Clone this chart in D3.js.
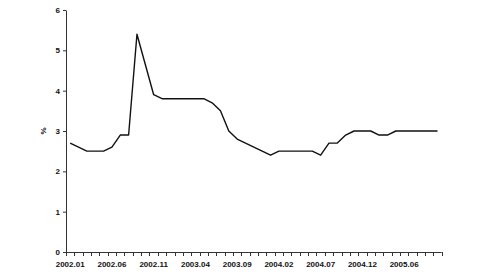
<!DOCTYPE html>
<html>
<head>
<meta charset="utf-8">
<script src="https://cdn.jsdelivr.net/npm/d3@7"></script>
<style>
  body { margin: 0; background: #fff; }
  svg { display: block; }
</style>
</head>
<body>
<svg id="chart" width="477" height="272"></svg>
<script>
// monthly categories, 2002.01 .. 2005.09
let months = [];
for (let y = 2002; y <= 2005; y++) {
  for (let m = 1; m <= 12; m++) {
    if (y == 2005 && m > 9) break;
    months.push(y + "." + (m < 10 ? "0" + m : m));
  }
}

// rate in %
let rates = [
  2.7, 2.6, 2.5, 2.5, 2.5, 2.6, 2.9, 2.9, 5.4, 4.65,
  3.9, 3.8, 3.8, 3.8, 3.8, 3.8, 3.8, 3.7, 3.5, 3.0,
  2.8, 2.7, 2.6, 2.5, 2.4, 2.5, 2.5, 2.5, 2.5, 2.5,
  2.4, 2.7, 2.7, 2.9, 3.0, 3.0, 3.0, 2.9, 2.9, 3.0,
  3.0, 3.0, 3.0, 3.0, 3.0
];

// which categories get a label, and the label text shown
let tickIdx = [0, 5, 10, 15, 20, 25, 30, 35, 40];
let tickText = ["2002.01", "2002.06", "2002.11", "2003.04", "2003.09",
                "2004.02", "2004.07", "2004.12", "2005.06"];

let yTicks = [0, 1, 2, 3, 4, 5, 6];

let data = months.map((m, i) => ({ month: m, rate: rates[i] }));

let svg = d3.select("#chart");
let font = "'Liberation Sans', Arial, sans-serif";

let xScale = d3.scaleBand()
  .domain(months)
  .range([66, 441.7]);

let yScale = d3.scaleLinear()
  .domain([0, 6])
  .range([252, 10]);

// y axis
let yAxis = svg.append("g")
  .attr("transform", "translate(66,0)")
  .call(d3.axisLeft(yScale)
    .tickValues(yTicks)
    .tickFormat(d3.format("d"))
    .tickSize(3)
    .tickSizeOuter(0)
    .tickPadding(3));

// x axis: tick at every category boundary
let bounds = months.map(m => xScale(m)).concat([xScale.range()[1]]);
let xAxis = svg.append("g").attr("class", "xaxis");
xAxis.append("line")
  .attr("x1", 66).attr("x2", xScale.range()[1])
  .attr("y1", 252.5).attr("y2", 252.5)
  .attr("stroke", "#333");
xAxis.selectAll(".xt")
  .data(bounds)
  .join("line")
  .attr("class", "xt")
  .attr("x1", d => Math.round(d) + 0.5).attr("x2", d => Math.round(d) + 0.5)
  .attr("y1", 252).attr("y2", 256)
  .attr("stroke", "#333");
xAxis.selectAll(".xl")
  .data(tickIdx)
  .join("text")
  .attr("class", "xl")
  .attr("x", (d) => xScale(months[d]) + xScale.bandwidth() / 2)
  .attr("y", 267)
  .attr("text-anchor", "middle")
  .text((d, i) => tickText[i]);

yAxis.select(".domain").attr("stroke", "#333");
yAxis.selectAll(".tick line").attr("stroke", "#333");

svg.selectAll("text")
  .style("font-family", font)
  .style("font-size", "8px")
  .style("font-weight", "bold")
  .attr("fill", "#111");

// axis title
svg.append("text")
  .attr("transform", "translate(46,131) rotate(-90)")
  .attr("text-anchor", "middle")
  .style("font-family", font)
  .style("font-size", "8px")
  .style("font-weight", "bold")
  .attr("fill", "#111")
  .text("%");

// the line
let line = d3.line()
  .x(d => xScale(d.month) + xScale.bandwidth() / 2)
  .y(d => yScale(d.rate));

svg.append("path")
  .datum(data)
  .attr("d", line)
  .attr("fill", "none")
  .attr("stroke", "#111")
  .attr("stroke-width", 1.4)
  .attr("stroke-linejoin", "round");
</script>
</body>
</html>
